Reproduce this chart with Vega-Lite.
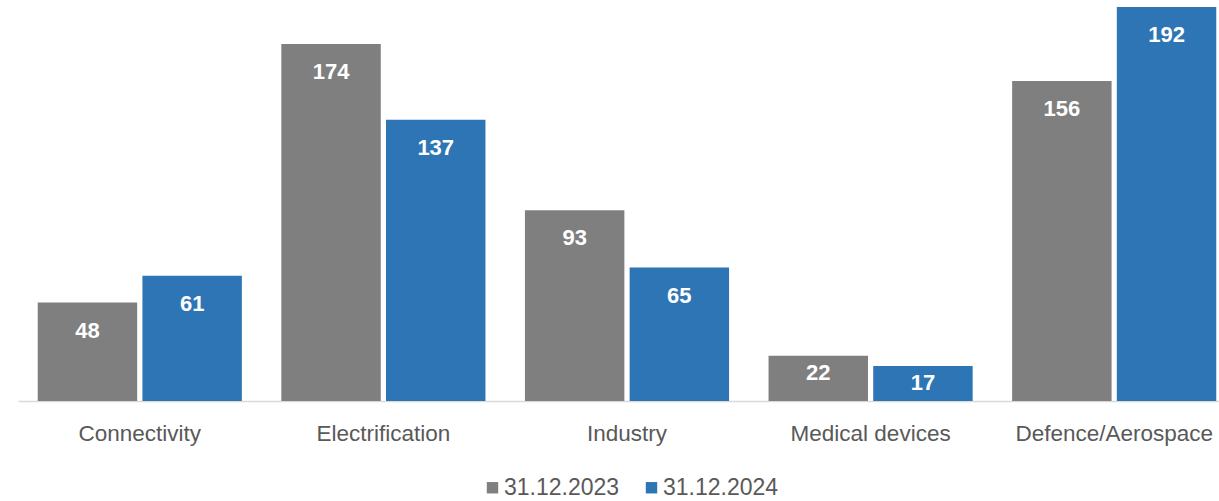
{
  "$schema": "https://vega.github.io/schema/vega-lite/v6.json",
  "autosize": "none",
  "width": 1218,
  "height": 394,
  "padding": {"left": 18, "top": 7, "right": 0, "bottom": 100},
  "background": "white",
  "config": {"view": {"stroke": null}, "font": "Liberation Sans"},
  "data": {"values": [
    {"category": "Connectivity", "date": "31.12.2023", "value": 48},
    {"category": "Connectivity", "date": "31.12.2024", "value": 61},
    {"category": "Electrification", "date": "31.12.2023", "value": 174},
    {"category": "Electrification", "date": "31.12.2024", "value": 137},
    {"category": "Industry", "date": "31.12.2023", "value": 93},
    {"category": "Industry", "date": "31.12.2024", "value": 65},
    {"category": "Medical devices", "date": "31.12.2023", "value": 22},
    {"category": "Medical devices", "date": "31.12.2024", "value": 17},
    {"category": "Defence/Aerospace", "date": "31.12.2023", "value": 156},
    {"category": "Defence/Aerospace", "date": "31.12.2024", "value": 192}
  ]},
  "encoding": {
    "x": {
      "field": "category", "type": "nominal", "sort": null,
      "scale": {"paddingInner": 0.162, "paddingOuter": 0.081},
      "axis": {"title": null, "labelAngle": 0, "ticks": false, "domainColor": "#d9d9d9", "domainWidth": 1.5,
               "labelFontSize": 22.5, "labelColor": "#595959", "labelPadding": 21, "labelLimit": 0, "labelFont": "Liberation Sans"}
    },
    "xOffset": {"field": "date", "type": "nominal", "scale": {"paddingInner": 0.05}},
    "y": {"field": "value", "type": "quantitative", "scale": {"domain": [0, 192], "nice": false}, "axis": null}
  },
  "layer": [
    {
      "mark": {"type": "bar"},
      "encoding": {
        "color": {
          "field": "date", "type": "nominal",
          "scale": {"domain": ["31.12.2023", "31.12.2024"], "range": ["#7f7f7f", "#2e75b6"]},
          "legend": {"title": null, "orient": "none", "direction": "horizontal", "legendX": 463, "legendY": 469,
                     "symbolType": "square", "symbolSize": 130, "symbolStrokeWidth": 0, "labelFontSize": 23,
                     "labelColor": "#595959", "labelOffset": 0, "columnPadding": 20, "labelFont": "Liberation Sans"}
        }
      }
    },
    {
      "transform": [{"filter": "datum.value >= 30"}],
      "mark": {"type": "text", "color": "white", "fontWeight": "bold", "fontSize": 22, "baseline": "middle", "dy": 28, "font": "Liberation Sans"},
      "encoding": {"text": {"field": "value", "type": "quantitative"}}
    },
    {
      "transform": [{"filter": "datum.value < 30"}],
      "mark": {"type": "text", "color": "white", "fontWeight": "bold", "fontSize": 22, "baseline": "middle", "dy": 17, "font": "Liberation Sans"},
      "encoding": {"text": {"field": "value", "type": "quantitative"}}
    }
  ]
}
